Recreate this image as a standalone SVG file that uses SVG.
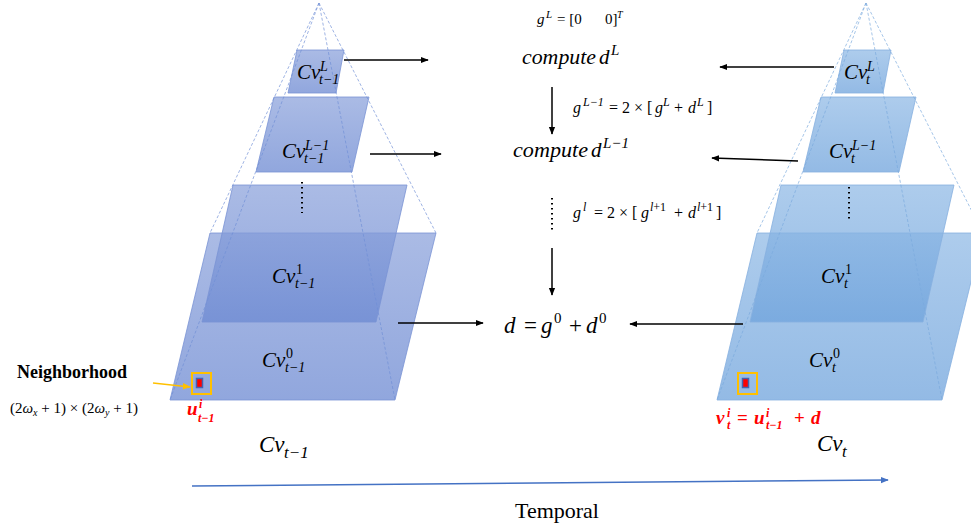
<svg xmlns="http://www.w3.org/2000/svg" width="971" height="526" viewBox="0 0 971 526" font-family="'Liberation Serif', 'Times New Roman', 'DejaVu Serif', serif">
<defs>
<linearGradient id="gL" x1="0" y1="0" x2="0" y2="1">
<stop offset="0" stop-color="#8ea4dc"/><stop offset="1" stop-color="#6c89d2"/>
</linearGradient>
<linearGradient id="gR" x1="0" y1="0" x2="0" y2="1">
<stop offset="0" stop-color="#92bbe6"/><stop offset="1" stop-color="#6fa3dc"/>
</linearGradient>
<marker id="ah" viewBox="0 0 10 10" refX="9" refY="5" markerWidth="8" markerHeight="8" markerUnits="userSpaceOnUse" orient="auto">
<path d="M0,1 L10,5 L0,9 Z" fill="#000"/>
</marker>
<marker id="ahB" viewBox="0 0 10 10" refX="9" refY="5" markerWidth="8" markerHeight="8" markerUnits="userSpaceOnUse" orient="auto">
<path d="M0,1 L10,5 L0,9 Z" fill="#4472c4"/>
</marker>
<marker id="ahY" viewBox="0 0 10 10" refX="9" refY="5" markerWidth="8" markerHeight="8" markerUnits="userSpaceOnUse" orient="auto">
<path d="M0,1 L10,5 L0,9 Z" fill="#ffc000"/>
</marker>
</defs>
<style>
.layL{fill:url(#gL);fill-opacity:0.75;stroke:#7a93d4;stroke-width:0.8}
.layR{fill:url(#gR);fill-opacity:0.75;stroke:#86b0e0;stroke-width:0.8}
.dashL{stroke:#6f8fd6;stroke-width:0.8;stroke-dasharray:3 2;fill:none;opacity:0.85}
.dashR{stroke:#7aa9dd;stroke-width:0.8;stroke-dasharray:3 2;fill:none;opacity:0.85}
.dots{stroke:#000;stroke-width:2;stroke-dasharray:1.5 3.5;fill:none}
text{font-family:'Liberation Serif','Times New Roman','DejaVu Serif',serif;fill:#000}
.m{font-style:italic}
.up{font-style:normal}
.big{font-size:21px}
.sc{font-size:14px}
.arr{stroke:#000;stroke-width:1.5;fill:none;marker-end:url(#ah)}
.red{font-style:italic;font-weight:bold;fill:#ff0000}
.box{fill:none;stroke:#ffc000;stroke-width:2}
.px{fill:#ff0000;stroke:#4463b0;stroke-width:1.5}
</style>

<g id="pyramid-left">
<polygon class="layL" points="210,233 436,233 395,400 170,400"/>
<polygon class="layL" points="233,185 407,185 376,322 202,322"/>
<polygon class="layL" points="274,97 369,97 352,172 256,172"/>
<polygon class="layL" points="297,50 344,50 336,93 288,93"/>
<line class="dashL" x1="319" y1="3" x2="210" y2="233"/>
<line class="dashL" x1="319" y1="3" x2="436" y2="233"/>
<line class="dashL" x1="319" y1="3" x2="170" y2="400"/>
<line class="dashL" x1="319" y1="3" x2="395" y2="400"/>
<line class="dots" x1="302" y1="182" x2="302" y2="213"/>
</g>

<g id="pyramid-right">
<polygon class="layR" points="757,233 983,233 942,400 717,400"/>
<polygon class="layR" points="781,185 954,185 923,322 750,322"/>
<polygon class="layR" points="821,97 916,97 899,172 803,172"/>
<polygon class="layR" points="844,50 891,50 883,93 835,93"/>
<line class="dashR" x1="866" y1="3" x2="757" y2="233"/>
<line class="dashR" x1="866" y1="3" x2="983" y2="233"/>
<line class="dashR" x1="866" y1="3" x2="717" y2="400"/>
<line class="dashR" x1="866" y1="3" x2="942" y2="400"/>
<line class="dots" x1="849" y1="187" x2="849" y2="221"/>
</g>

<g id="labels-left">
<text id="cvL-left" class="m big" x="297" y="79">Cv<tspan class="sc" x="320" y="71">L</tspan><tspan class="sc" x="319" y="84">t−1</tspan></text>
<text id="cvL1-left" class="m big" x="282" y="158">Cv<tspan class="sc" x="305" y="150">L−1</tspan><tspan class="sc" x="304" y="163">t−1</tspan></text>
<text id="cv1-left" class="m big" x="272" y="283">Cv<tspan class="sc up" x="296" y="274">1</tspan><tspan class="sc" x="295" y="288">t−1</tspan></text>
<text id="cv0-left" class="m big" x="262" y="367">Cv<tspan class="sc up" x="286" y="358">0</tspan><tspan class="sc" x="285" y="372">t−1</tspan></text>
<text id="cv-left" class="m" font-size="23" x="259" y="452">Cv<tspan font-size="17" x="284" y="458">t−1</tspan></text>
</g>

<g id="labels-right">
<text id="cvL-right" class="m big" x="844" y="79">Cv<tspan class="sc" x="867" y="71">L</tspan><tspan class="sc" x="866" y="84">t</tspan></text>
<text id="cvL1-right" class="m big" x="829" y="158">Cv<tspan class="sc" x="852" y="150">L−1</tspan><tspan class="sc" x="851" y="163">t</tspan></text>
<text id="cv1-right" class="m big" x="821" y="283">Cv<tspan class="sc up" x="845" y="274">1</tspan><tspan class="sc" x="844" y="288">t</tspan></text>
<text id="cv0-right" class="m big" x="809" y="367">Cv<tspan class="sc up" x="833" y="358">0</tspan><tspan class="sc" x="832" y="372">t</tspan></text>
<text id="cv-right" class="m" font-size="23" x="817" y="451">Cv<tspan font-size="17" x="842" y="457">t</tspan></text>
</g>

<g id="neighborhood">
<text font-size="18" font-weight="bold" x="17" y="378">Neighborhood</text>
<text font-size="15" x="10" y="413">(2<tspan class="m">ω</tspan><tspan class="m" font-size="10" dy="3">x</tspan><tspan dy="-3"> + 1) × (2</tspan><tspan class="m">ω</tspan><tspan class="m" font-size="10" dy="3">y</tspan><tspan dy="-3"> + 1)</tspan></text>
<rect class="box" x="192" y="373" width="19" height="21"/>
<rect class="px" x="196.5" y="378.5" width="6" height="9"/>
<rect class="box" x="738" y="373" width="19" height="21"/>
<rect class="px" x="742.5" y="378.5" width="6" height="9"/>
<text class="red" font-size="19" x="187" y="415">u<tspan font-size="12" x="199" y="408">i</tspan><tspan font-size="12" x="198" y="422">t−1</tspan></text>
<text class="red" font-size="19" x="716" y="424">v<tspan font-size="12" x="727" y="417">i</tspan><tspan font-size="12" x="727" y="429">t</tspan><tspan class="up" x="737" y="424">=</tspan><tspan x="754">u</tspan><tspan font-size="12" x="766" y="417">i</tspan><tspan font-size="12" x="766" y="429">t−1</tspan><tspan class="up" x="794" y="424">+</tspan><tspan x="811">d</tspan></text>
</g>

<g id="middle">
<text font-size="15" y="24"><tspan class="m" x="537">g</tspan><tspan class="m" font-size="11" x="546" y="18">L</tspan><tspan x="557" y="24">= [0</tspan><tspan x="605">0]</tspan><tspan class="m" font-size="10" x="617" y="18">T</tspan></text>
<text class="m" font-size="21" y="64"><tspan x="522" textLength="74" lengthAdjust="spacingAndGlyphs">compute</tspan><tspan x="599">d</tspan><tspan font-size="15" x="611" y="55">L</tspan></text>
<text font-size="16" y="113"><tspan class="m" x="573">g</tspan><tspan class="m" font-size="12" x="583" y="106">L−1</tspan><tspan x="609" y="113">= 2 × [</tspan><tspan class="m" x="655">g</tspan><tspan class="m" font-size="12" x="663" y="106">L</tspan><tspan x="674" y="113">+</tspan><tspan class="m" x="688">d</tspan><tspan class="m" font-size="12" x="697" y="106">L</tspan><tspan x="707" y="113">]</tspan></text>
<text class="m" font-size="21" y="157"><tspan x="513" textLength="75" lengthAdjust="spacingAndGlyphs">compute</tspan><tspan x="591">d</tspan><tspan font-size="15" x="603" y="148">L−1</tspan></text>
<text font-size="16" y="218"><tspan class="m" x="573">g</tspan><tspan class="m" font-size="12" x="583" y="211">l</tspan><tspan x="594" y="218">= 2 × [</tspan><tspan class="m" x="641">g</tspan><tspan class="m" font-size="12" x="650" y="211">l</tspan><tspan font-size="12">+1</tspan><tspan x="674" y="218">+</tspan><tspan class="m" x="688">d</tspan><tspan class="m" font-size="12" x="697" y="211">l</tspan><tspan font-size="12">+1</tspan><tspan x="716" y="218">]</tspan></text>
<line class="dots" x1="552" y1="198" x2="552" y2="233"/>
<text class="m" font-size="23" y="333"><tspan x="504">d</tspan><tspan class="up" x="524">=</tspan><tspan x="541">g</tspan><tspan class="up" font-size="15" x="554" y="323">0</tspan><tspan class="up" x="569" y="333">+</tspan><tspan x="586">d</tspan><tspan class="up" font-size="15" x="599" y="323">0</tspan></text>
</g>

<g id="connectors">
<line class="arr" x1="344" y1="60" x2="428" y2="60"/>
<line class="arr" x1="370" y1="154" x2="441" y2="154"/>
<line class="arr" x1="552" y1="87" x2="552" y2="134"/>
<line class="arr" x1="552" y1="248" x2="552" y2="295"/>
<line class="arr" x1="398" y1="323" x2="483" y2="323"/>
<line class="arr" x1="743" y1="324" x2="630" y2="324"/>
<line class="arr" x1="834" y1="67" x2="720" y2="67"/>
<line class="arr" x1="798" y1="161" x2="712" y2="158"/>
<line x1="153" y1="383" x2="190" y2="387" stroke="#ffc000" stroke-width="1.5" marker-end="url(#ahY)"/>
<line x1="192" y1="486" x2="888" y2="480" stroke="#4472c4" stroke-width="1.5" marker-end="url(#ahB)"/>
</g>

<text id="temporal" font-size="22" x="557" y="518" text-anchor="middle">Temporal</text>
</svg>
